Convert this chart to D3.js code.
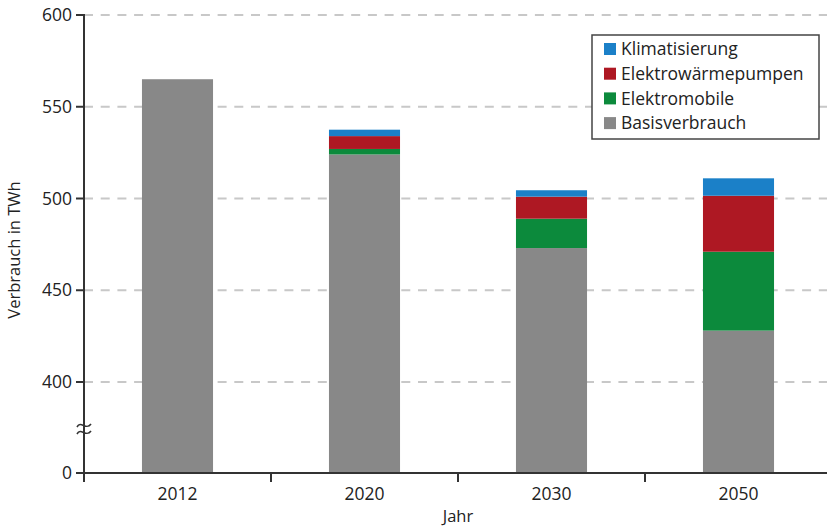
<!DOCTYPE html>
<html>
<head>
<meta charset="utf-8">
<script src="https://cdn.jsdelivr.net/npm/d3@7/dist/d3.min.js"></script>
<style>
  body { margin: 0; background: #fff; }
  svg { display: block; font-family: "Open Sans", "Noto Sans", sans-serif; }
</style>
</head>
<body>
<svg id="chart" width="827" height="527"></svg>
<script>
// Stromverbrauch nach Verbrauchsart (TWh)
const years = ["2012", "2020", "2030", "2050"];
const basisverbrauch = [565, 524, 473, 428];
const elektromobile = [0, 3, 16, 43];
const waermepumpen = [0, 7, 12, 30.5];
const klimatisierung = [0, 3.5, 3.5, 9.5];
const yTicks = [0, 400, 450, 500, 550, 600];

const seriesNames = ["Basisverbrauch", "Elektromobile", "Elektrowärmepumpen", "Klimatisierung"];
const seriesColors = ["#888888", "#0c8a3c", "#ae1823", "#1b80c8"];
const legendOrder = ["Klimatisierung", "Elektrowärmepumpen", "Elektromobile", "Basisverbrauch"];

const rows = years.map((y, i) => ({
  year: y,
  Basisverbrauch: basisverbrauch[i],
  Elektromobile: elektromobile[i],
  "Elektrowärmepumpen": waermepumpen[i],
  Klimatisierung: klimatisierung[i]
}));

const svg = d3.select("#chart");
const axisX = 84, axisBottom = 473;

// Broken value axis: 0 sits one gridline step below 400.
const yUpper = d3.scaleLinear().domain([400, 600]).range([382, 15]);
const yLower = d3.scaleLinear().domain([0, 400]).range([axisBottom, 382]);
const y = v => v >= 400 ? yUpper(v) : yLower(v);
// Bars starting at 0 appear from the bottom axis
const yBar = v => v <= 0 ? axisBottom : (v < 400 ? yLower(v) : yUpper(v));

const outerPad = 0.31;
const x = d3.scaleBand().domain(years).range([axisX, 832]).paddingInner(0.62).paddingOuter(outerPad);
const step = x.step();

const color = d3.scaleOrdinal().domain(seriesNames).range(seriesColors);

// Gridlines
svg.append("g").selectAll("line")
  .data(yTicks.filter(t => t >= 400))
  .join("line")
  .attr("x1", axisX).attr("x2", 827)
  .attr("y1", d => y(d)).attr("y2", d => y(d))
  .attr("stroke", "#c8c8c8").attr("stroke-width", 2)
  .attr("stroke-dasharray", "9,7.7");

// Stacked bars
const stack = d3.stack().keys(seriesNames)(rows);
svg.append("g").selectAll("g")
  .data(stack)
  .join("g")
  .attr("fill", d => color(d.key))
  .selectAll("rect")
  .data(d => d.filter(s => s[1] - s[0] > 0))
  .join("rect")
  .attr("x", d => x(d.data.year))
  .attr("width", x.bandwidth())
  .attr("y", d => yBar(d[1]))
  .attr("height", d => yBar(d[0]) - yBar(d[1]));

// Y axis
const yAxis = svg.append("g").attr("stroke", "#333").attr("stroke-width", 2);
yAxis.append("line").attr("x1", axisX).attr("x2", axisX).attr("y1", y(600) - 1).attr("y2", axisBottom + 9);
yAxis.selectAll("line.tick").data(yTicks).join("line")
  .attr("class", "tick")
  .attr("x1", axisX - 8).attr("x2", axisX)
  .attr("y1", d => y(d)).attr("y2", d => y(d));
svg.append("g").selectAll("text").data(yTicks).join("text")
  .attr("x", 72).attr("y", d => y(d)).attr("dy", "0.35em")
  .attr("text-anchor", "end").attr("font-size", 17.5).attr("fill", "#222")
  .text(d => d);

// Axis break marks
const breakY = [425, 432];
svg.append("g").selectAll("path").data(breakY).join("path")
  .attr("d", d => `M${axisX - 7},${d + 2} C${axisX - 3},${d - 5} ${axisX + 2},${d + 6} ${axisX + 7},${d - 1}`)
  .attr("fill", "none").attr("stroke", "#333").attr("stroke-width", 1.6);

// X axis with separator ticks between year groups
const xAxis = svg.append("g").attr("stroke", "#333").attr("stroke-width", 2);
xAxis.append("line").attr("x1", axisX).attr("x2", 827).attr("y1", axisBottom).attr("y2", axisBottom);
xAxis.selectAll("line.sep").data(years.slice(1)).join("line")
  .attr("class", "sep")
  .attr("x1", d => x(d) - step * outerPad)
  .attr("x2", d => x(d) - step * outerPad)
  .attr("y1", axisBottom).attr("y2", axisBottom + 9);

svg.append("g").selectAll("text").data(years).join("text")
  .attr("x", d => x(d) + x.bandwidth() / 2).attr("y", 500)
  .attr("text-anchor", "middle").attr("font-size", 17.5).attr("fill", "#222")
  .text(d => d);

// Axis titles
svg.append("text").attr("x", 458).attr("y", 522)
  .attr("text-anchor", "middle").attr("font-size", 16.5).attr("fill", "#222").text("Jahr");
svg.append("text").attr("transform", "translate(20,250) rotate(-90)")
  .attr("text-anchor", "middle").attr("font-size", 16.5).attr("fill", "#222").text("Verbrauch in TWh");

// Legend
const legend = svg.append("g").attr("transform", "translate(592,35)");
legend.append("rect").attr("x", 0).attr("y", 0).attr("width", 227).attr("height", 104)
  .attr("fill", "#fff").attr("stroke", "#444").attr("stroke-width", 1.5);
const items = legend.selectAll("g").data(legendOrder).join("g")
  .attr("transform", (d, i) => `translate(12,${14 + i * 24.7})`);
items.append("rect").attr("x", 0).attr("y", -6).attr("width", 12).attr("height", 12)
  .attr("fill", d => color(d));
items.append("text").attr("x", 17).attr("y", 0).attr("dy", "0.36em")
  .attr("font-size", 17.5).attr("fill", "#222").text(d => d);
</script>
</body>
</html>
